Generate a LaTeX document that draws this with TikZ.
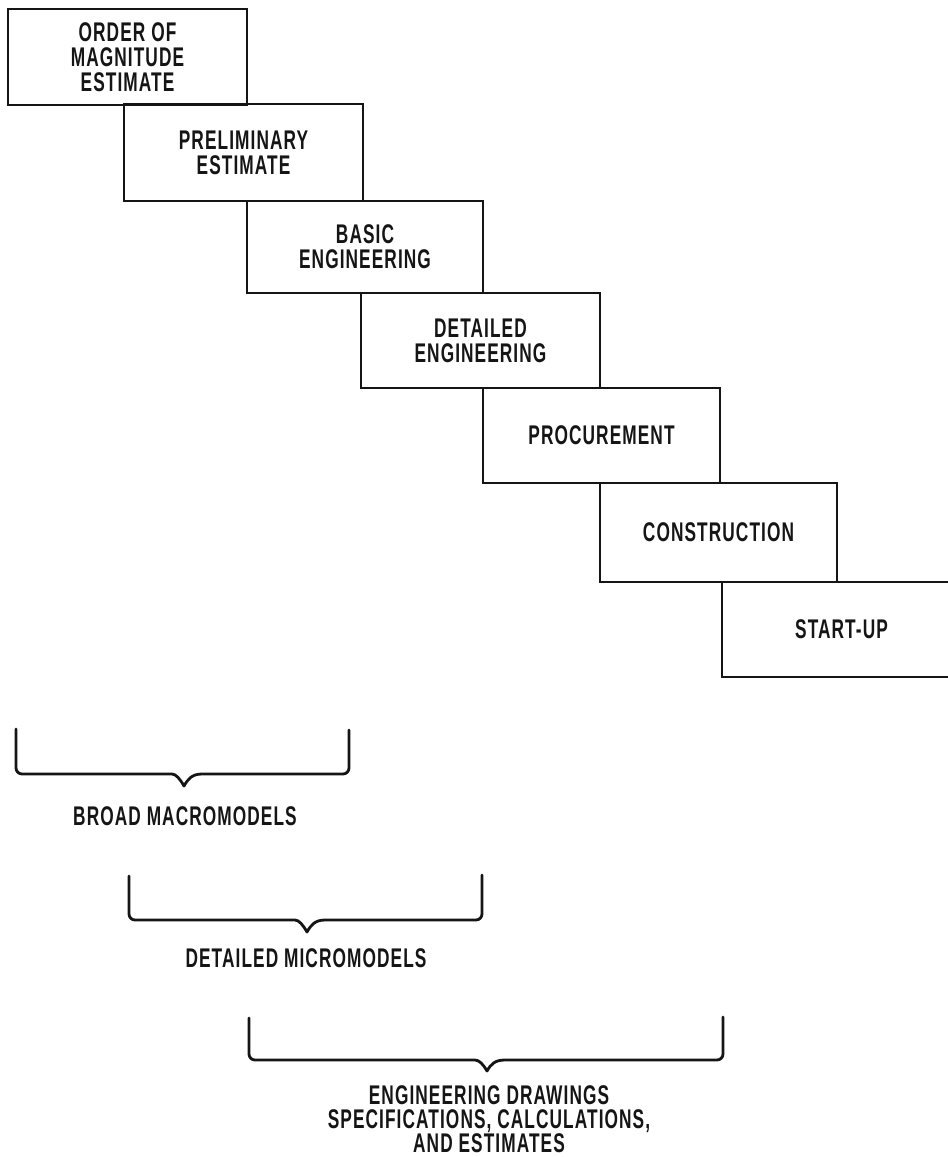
\documentclass[tikz,border=0pt]{standalone}
\usepackage{fontspec}
\newfontfamily\lbl{Liberation Sans}[FakeStretch=0.64, LetterSpace=4]
\definecolor{ink}{HTML}{151515}
\begin{document}
\begin{tikzpicture}[x=1pt,y=-1pt,
  stage/.style={draw=ink, line width=2.8pt, minimum width=239pt, inner sep=0pt, align=center,
    text=ink, font=\lbl\bfseries\fontsize{27}{25}\selectfont},
  bracepath/.style={draw=ink, line width=2.8pt, line join=round, line cap=round},
  caption/.style={inner sep=0pt, align=center, text=ink, font=\lbl\bfseries\fontsize{27}{24}\selectfont}]
\clip (0,0) rectangle (948,1157);
\fill[white] (0,0) rectangle (948,1157);
% staircase of stages
\node[stage, minimum height=96pt] (b1) at (127.5,57) {ORDER OF\\MAGNITUDE\\ESTIMATE};
\node[stage, minimum height=97pt] (b2) at (243.5,152.5) {PRELIMINARY\\ESTIMATE};
\node[stage, minimum width=236pt, minimum height=92pt] (b3) at (365,247) {BASIC\\ENGINEERING};
\node[stage, minimum height=95pt] (b4) at (480.5,340.5) {DETAILED\\ENGINEERING};
\node[stage, minimum width=237pt, minimum height=95pt] (b5) at (601.5,435.5) {PROCUREMENT};
\node[stage, minimum width=237pt, minimum height=99pt] (b6) at (718.5,532.5) {CONSTRUCTION};
\node[stage, minimum height=95pt] (b7) at (841.5,629.5) {START-UP};
% braces
\draw[bracepath] (16,729) [rounded corners=6pt] -- (16,774) -- (166,774) [sharp corners]
  .. controls (176,774) and (180,779) .. (184,786)
  .. controls (188,779) and (192,774) .. (202,774) [rounded corners=6pt] -- (349,774) -- (349,730);
\draw[bracepath] (129,876) [rounded corners=6pt] -- (129,920) -- (289,920) [sharp corners]
  .. controls (299,920) and (303,925) .. (307,932)
  .. controls (311,925) and (315,920) .. (325,920) [rounded corners=6pt] -- (482,920) -- (482,875);
\draw[bracepath] (249,1018) [rounded corners=6pt] -- (249,1060) -- (469,1060) [sharp corners]
  .. controls (479,1060) and (483,1064) .. (487,1071)
  .. controls (491,1064) and (495,1060) .. (505,1060) [rounded corners=6pt] -- (723,1060) -- (723,1017);
% captions
\node[caption] (l1) at (185,816) {BROAD MACROMODELS};
\node[caption] (l2) at (306,958) {DETAILED MICROMODELS};
\node[caption] (l3) at (489,1119) {ENGINEERING DRAWINGS\\SPECIFICATIONS, CALCULATIONS,\\AND ESTIMATES};
\end{tikzpicture}
\end{document}
